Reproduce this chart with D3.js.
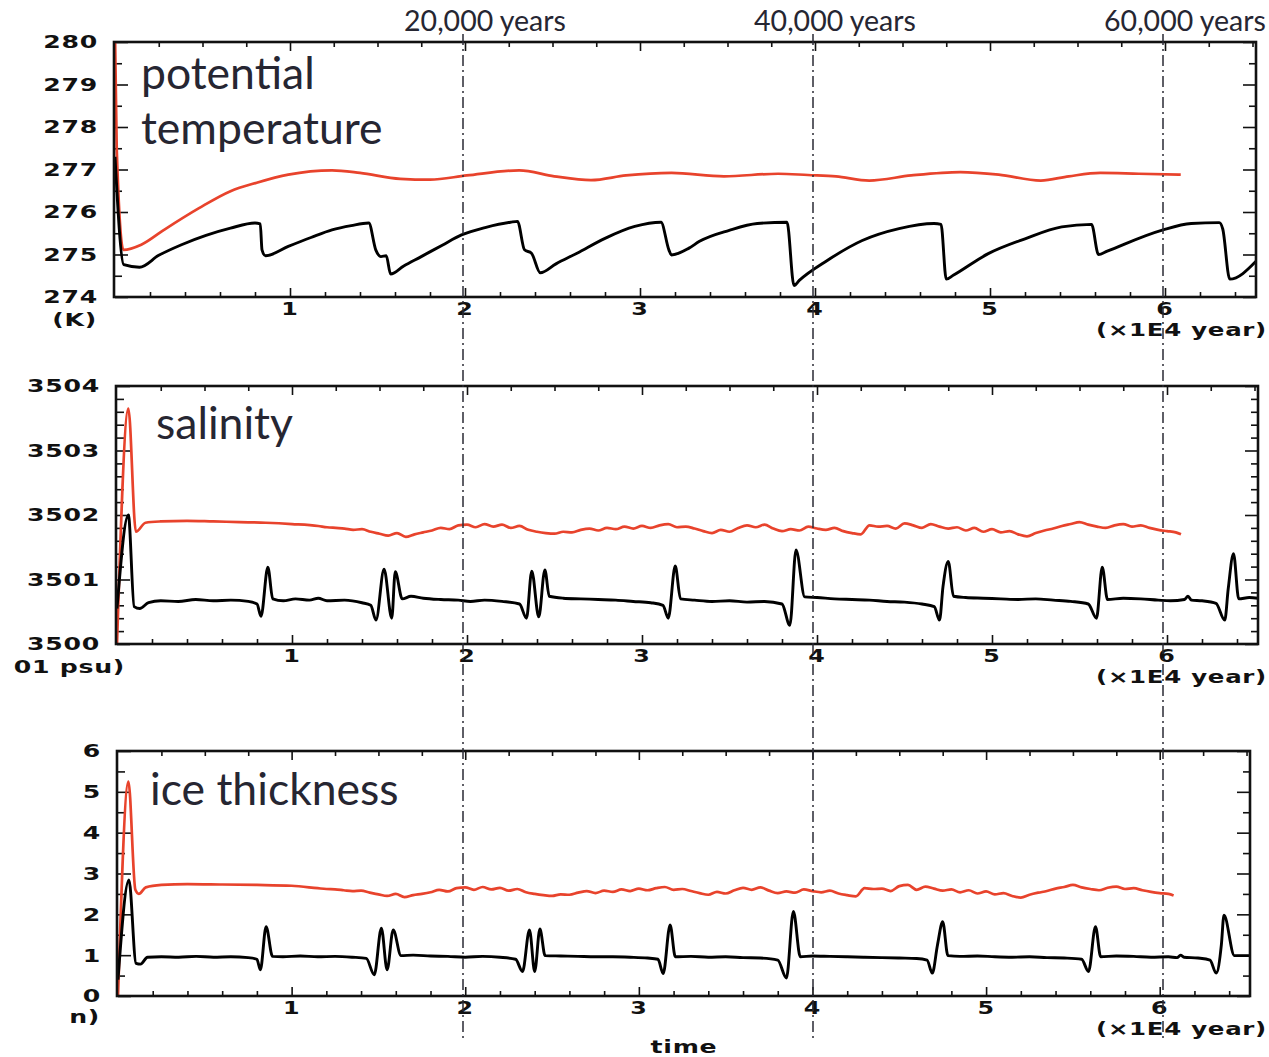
<!DOCTYPE html>
<html>
<head>
<meta charset="utf-8">
<script src="https://cdn.jsdelivr.net/npm/d3@7"></script>
<style>
body { margin: 0; background: #fff; }
svg { display: block; }
</style>
</head>
<body>
<svg id="chart"></svg>
<script>
// time in units of 1E4 years
var timeTicks = [1, 2, 3, 4, 5, 6];
var yearMarks = [2, 4, 6];
var yearLabels = ["20,000 years", "40,000 years", "60,000 years"];

var tempTicks = [274, 275, 276, 277, 278, 279, 280];
var salTicks = [3500, 3501, 3502, 3503, 3504];
var iceTicks = [0, 1, 2, 3, 4, 5, 6];

// potential temperature (K)
var tempBlack = [[0,277.3],[0.05,274.76],[0.14,274.70],[0.25,274.98],[0.38,275.23],[0.52,275.45],[0.66,275.62],[0.8,275.74],[0.83,275.72],
  [0.84,275.11],[0.86,274.97],[0.99,275.19],[1.12,275.40],[1.24,275.58],[1.35,275.68],[1.45,275.74],[1.49,275.11],[1.52,274.95],
  [1.55,274.97],[1.575,274.54],[1.65,274.73],[1.75,274.95],[1.87,275.22],[1.98,275.46],[2.12,275.64],[2.26,275.76],[2.30,275.78],
  [2.34,275.11],[2.38,275.03],[2.43,274.57],[2.52,274.78],[2.64,275.03],[2.8,275.38],[2.97,275.66],[3.12,275.76],[3.165,275.11],
  [3.18,274.99],[3.28,275.15],[3.34,275.31],[3.51,275.57],[3.67,275.73],[3.84,275.76],[3.88,274.27],[3.91,274.39],[4.07,274.86],
  [4.27,275.33],[4.48,275.61],[4.68,275.73],[4.72,275.71],[4.75,274.42],[4.79,274.51],[4.99,275.02],[5.2,275.37],[5.41,275.65],
  [5.58,275.71],[5.62,275.0],[5.67,275.08],[5.98,275.57],[6.15,275.73],[6.31,275.75],[6.33,275.6],[6.37,274.42],[6.52,274.84]];
var tempRed = [[0,280.2],[0.01,277.47],[0.048,275.11],[0.15,275.23],[0.28,275.58],[0.48,276.09],[0.66,276.49],[0.81,276.69],
  [0.99,276.88],[1.24,276.98],[1.4,276.92],[1.63,276.78],[1.8,276.76],[2.01,276.86],[2.31,276.98],[2.51,276.84],[2.72,276.75],
  [2.92,276.86],[3.18,276.92],[3.48,276.84],[3.79,276.9],[3.96,276.87],[4.12,276.84],[4.31,276.74],[4.55,276.86],[4.83,276.94],
  [5.05,276.88],[5.29,276.74],[5.45,276.84],[5.63,276.92],[5.85,276.9],[6.09,276.88]];

// salinity (0.001 psu)
var salBlack = [[0,3500.55],[0.065,3502.0],[0.098,3500.58],[0.13,3500.55],[0.18,3500.64],[0.25,3500.67],[0.35,3500.66],[0.45,3500.69],
  [0.55,3500.67],[0.65,3500.68],[0.75,3500.66],[0.80,3500.62],[0.823,3500.43],[0.862,3501.19],[0.89,3500.70],[0.95,3500.67],
  [1.02,3500.70],[1.1,3500.68],[1.15,3500.71],[1.2,3500.67],[1.3,3500.68],[1.4,3500.64],[1.45,3500.6],[1.48,3500.37],[1.526,3501.16],
  [1.57,3500.40],[1.59,3501.12],[1.63,3500.7],[1.68,3500.74],[1.75,3500.71],[1.85,3500.69],[1.95,3500.68],[2.02,3500.66],[2.1,3500.68],
  [2.2,3500.66],[2.3,3500.62],[2.34,3500.40],[2.37,3501.13],[2.41,3500.42],[2.445,3501.15],[2.47,3500.74],[2.55,3500.71],[2.65,3500.70],
  [2.75,3500.69],[2.85,3500.68],[2.95,3500.66],[3.05,3500.64],[3.12,3500.6],[3.15,3500.40],[3.19,3501.21],[3.22,3500.70],[3.3,3500.68],
  [3.4,3500.66],[3.5,3500.67],[3.6,3500.65],[3.7,3500.66],[3.8,3500.62],[3.845,3500.29],[3.88,3501.46],[3.93,3500.73],[4.0,3500.72],
  [4.1,3500.70],[4.2,3500.69],[4.3,3500.68],[4.4,3500.66],[4.5,3500.65],[4.6,3500.62],[4.67,3500.58],[4.70,3500.37],[4.72,3500.89],
  [4.75,3501.28],[4.78,3500.74],[4.85,3500.72],[4.95,3500.71],[5.05,3500.70],[5.15,3500.69],[5.25,3500.70],[5.35,3500.68],[5.45,3500.66],
  [5.55,3500.62],[5.597,3500.40],[5.63,3501.19],[5.66,3500.69],[5.75,3500.71],[5.85,3500.70],[5.95,3500.68],[6.02,3500.67],[6.1,3500.69],
  [6.12,3500.74],[6.14,3500.68],[6.2,3500.67],[6.28,3500.63],[6.33,3500.37],[6.35,3500.86],[6.38,3501.4],[6.41,3500.7],[6.47,3500.72],
  [6.52,3500.71]];
var salRed = [[0,3500.0],[0.065,3503.65],[0.108,3501.74],[0.163,3501.88],[0.25,3501.9],[0.4,3501.91],[0.55,3501.9],[0.7,3501.89],
  [0.85,3501.88],[1.0,3501.86],[1.15,3501.83],
  [1.20,3501.81],[1.25,3501.80],[1.30,3501.79],[1.35,3501.77],[1.40,3501.78],[1.45,3501.74],[1.50,3501.71],[1.55,3501.68],[1.60,3501.72],
  [1.65,3501.66],[1.70,3501.70],[1.75,3501.73],[1.80,3501.76],[1.85,3501.80],[1.90,3501.78],[1.95,3501.84],[2.00,3501.85],[2.05,3501.81],
  [2.10,3501.86],[2.15,3501.82],[2.20,3501.85],[2.25,3501.80],[2.30,3501.83],[2.35,3501.77],[2.40,3501.74],[2.45,3501.72],[2.50,3501.71],
  [2.55,3501.74],[2.60,3501.73],[2.65,3501.77],[2.70,3501.79],[2.75,3501.76],[2.80,3501.80],[2.85,3501.78],[2.90,3501.82],[2.95,3501.79],
  [3.00,3501.83],[3.05,3501.80],[3.10,3501.84],[3.15,3501.86],[3.20,3501.81],[3.25,3501.82],[3.30,3501.79],[3.35,3501.75],[3.40,3501.72],
  [3.45,3501.77],[3.50,3501.74],[3.55,3501.80],[3.60,3501.84],[3.65,3501.81],[3.70,3501.85],[3.75,3501.79],[3.80,3501.75],[3.85,3501.78],
  [3.90,3501.76],[3.95,3501.82],[4.00,3501.79],[4.05,3501.77],[4.10,3501.80],[4.15,3501.75],[4.20,3501.72],[4.25,3501.70],[4.30,3501.84],
  [4.35,3501.82],[4.40,3501.83],[4.45,3501.79],[4.50,3501.87],[4.55,3501.84],[4.60,3501.80],[4.65,3501.86],[4.70,3501.82],[4.75,3501.79],
  [4.80,3501.81],[4.85,3501.76],[4.90,3501.80],[4.95,3501.74],[5.00,3501.78],[5.05,3501.73],[5.10,3501.75],[5.15,3501.70],[5.20,3501.67],
  [5.25,3501.72],[5.30,3501.76],[5.35,3501.79],[5.40,3501.83],[5.45,3501.86],[5.50,3501.89],[5.55,3501.85],[5.60,3501.82],[5.65,3501.80],
  [5.70,3501.84],[5.75,3501.86],[5.80,3501.82],[5.85,3501.84],[5.90,3501.80],[5.95,3501.77],[6.00,3501.75],[6.05,3501.73],[6.08,3501.70]];

// ice thickness (m)
var iceBlack = [[0,0.4],[0.063,2.84],[0.104,0.80],[0.13,0.78],[0.17,0.95],[0.25,0.96],[0.35,0.95],[0.45,0.97],[0.55,0.95],[0.65,0.96],
  [0.75,0.94],[0.80,0.9],[0.82,0.64],[0.853,1.70],[0.89,0.97],[0.95,0.96],[1.05,0.98],[1.15,0.96],[1.25,0.97],[1.35,0.95],[1.43,0.92],
  [1.476,0.52],[1.517,1.66],[1.55,0.64],[1.585,1.62],[1.63,0.99],[1.7,1.0],[1.8,0.98],[1.9,0.97],[2.0,0.95],[2.1,0.97],[2.2,0.95],
  [2.29,0.9],[2.33,0.60],[2.37,1.62],[2.40,0.60],[2.43,1.64],[2.46,0.99],[2.55,0.98],[2.65,0.97],[2.75,0.96],[2.85,0.96],[2.95,0.95],
  [3.05,0.93],[3.11,0.9],[3.14,0.55],[3.18,1.74],[3.21,0.96],[3.3,0.97],[3.4,0.95],[3.5,0.96],[3.6,0.94],[3.7,0.93],[3.8,0.88],
  [3.85,0.44],[3.89,2.07],[3.93,0.96],[4.0,0.98],[4.1,0.97],[4.2,0.96],[4.3,0.95],[4.4,0.94],[4.5,0.93],[4.6,0.92],[4.66,0.88],
  [4.69,0.56],[4.72,1.25],[4.75,1.82],[4.78,0.99],[4.85,0.97],[4.95,0.98],[5.05,0.96],[5.15,0.95],[5.25,0.96],[5.35,0.94],[5.45,0.93],
  [5.55,0.9],[5.59,0.60],[5.63,1.70],[5.66,0.96],[5.75,0.98],[5.85,0.97],[5.95,0.95],[6.05,0.96],[6.1,0.94],[6.12,1.0],[6.14,0.95],
  [6.22,0.93],[6.29,0.88],[6.325,0.56],[6.355,1.25],[6.37,1.98],[6.43,0.99],[6.53,0.99]];
var iceRed = [[0,0],[0.06,5.25],[0.1,2.6],[0.12,2.5],[0.16,2.66],[0.25,2.72],[0.4,2.74],[0.6,2.73],[0.8,2.72],[1.0,2.70],[1.15,2.64],
  [1.20,2.62],[1.25,2.61],[1.30,2.59],[1.35,2.57],[1.40,2.58],[1.45,2.53],[1.50,2.49],[1.55,2.45],[1.60,2.50],[1.65,2.42],[1.70,2.47],
  [1.75,2.50],[1.80,2.54],[1.85,2.60],[1.90,2.56],[1.95,2.64],[2.00,2.66],[2.05,2.60],[2.10,2.67],[2.15,2.61],[2.20,2.65],[2.25,2.58],
  [2.30,2.62],[2.35,2.54],[2.40,2.50],[2.45,2.47],[2.50,2.45],[2.55,2.49],[2.60,2.48],[2.65,2.53],[2.70,2.57],[2.75,2.52],[2.80,2.58],
  [2.85,2.55],[2.90,2.61],[2.95,2.57],[3.00,2.63],[3.05,2.59],[3.10,2.64],[3.15,2.67],[3.20,2.60],[3.25,2.62],[3.30,2.57],[3.35,2.52],
  [3.40,2.48],[3.45,2.55],[3.50,2.51],[3.55,2.59],[3.60,2.65],[3.65,2.60],[3.70,2.66],[3.75,2.58],[3.80,2.52],[3.85,2.56],[3.90,2.53],
  [3.95,2.61],[4.00,2.57],[4.05,2.54],[4.10,2.58],[4.15,2.51],[4.20,2.47],[4.25,2.44],[4.30,2.64],[4.35,2.62],[4.40,2.63],[4.45,2.57],
  [4.50,2.69],[4.55,2.72],[4.60,2.60],[4.65,2.68],[4.70,2.63],[4.75,2.58],[4.80,2.61],[4.85,2.54],[4.90,2.59],[4.95,2.51],[5.00,2.56],
  [5.05,2.49],[5.10,2.52],[5.15,2.45],[5.20,2.41],[5.25,2.48],[5.30,2.53],[5.35,2.57],[5.40,2.63],[5.45,2.67],[5.50,2.72],[5.55,2.66],
  [5.60,2.62],[5.65,2.59],[5.70,2.65],[5.75,2.68],[5.80,2.62],[5.85,2.64],[5.90,2.59],[5.95,2.55],[6.00,2.52],[6.05,2.50],[6.08,2.46]];

var width = 1269, height = 1057;
var RED = "#e8432c";
var INK = "#262632";

var svg = d3.select("#chart").attr("width", width).attr("height", height);

var panels = [
  {left: 115, right: 1256, top: 42, bottom: 297, ticks: tempTicks, minor: 0.5,
   black: tempBlack, red: tempRed, unit: "(K)", unitX: 97, unitY: 320,
   title: ["potential", "temperature"], titleX: 141, titleY: 89},
  {left: 117, right: 1258, top: 386, bottom: 644, ticks: salTicks, minor: 0.2,
   black: salBlack, red: salRed, unit: "01 psu)", unitX: 125, unitY: 667,
   title: ["salinity"], titleX: 156, titleY: 439},
  {left: 118, right: 1250, top: 751, bottom: 996, ticks: iceTicks, minor: 0.5,
   black: iceBlack, red: iceRed, unit: "n)", unitX: 100, unitY: 1017,
   title: ["ice thickness"], titleX: 150, titleY: 805}
];

// wide bold labels in the style of the plotting package
function gradsText(g, txt, x, y, anchor, size) {
  g.append("text")
    .attr("transform", "translate(" + x + "," + y + ") scale(1.4,1)")
    .attr("text-anchor", anchor)
    .attr("dy", "0.36em")
    .style("font-family", "DejaVu Sans")
    .style("font-weight", "bold")
    .style("font-size", (size || 18) + "px")
    .style("letter-spacing", "0.5px")
    .attr("fill", "#111")
    .text(txt);
}

var x1;
panels.forEach(function(p, i) {
  var x = d3.scaleLinear().domain([0, 6.52]).range([p.left, p.right]);
  var lo = p.ticks[0], hi = p.ticks[p.ticks.length - 1];
  var y = d3.scaleLinear().domain([lo, hi]).range([p.bottom, p.top]);
  if (i == 0) x1 = x;
  var g = svg.append("g");

  var clipId = "clip" + i;
  svg.append("clipPath").attr("id", clipId)
    .append("rect").attr("x", p.left).attr("y", p.top)
    .attr("width", p.right - p.left).attr("height", p.bottom - p.top);

  var yMinor = d3.range(lo, hi + 1e-9, p.minor).filter(function(v) { return p.ticks.indexOf(Math.round(v * 100) / 100) < 0; });
  var xMinorB = d3.range(0, 6.52, 0.2).filter(function(v) { return Math.abs(v - Math.round(v)) > 0.01; });
  var xMinorT = d3.range(0, 6.52, 0.25).filter(function(v) { return Math.abs(v - Math.round(v)) > 0.01; });

  function tickAxis(axis, tx, ty) {
    var a = g.append("g").attr("transform", "translate(" + tx + "," + ty + ")").call(axis);
    a.select(".domain").remove();
    a.selectAll("text").remove();
    a.selectAll("line").attr("stroke", "#111").attr("stroke-width", 1.6);
  }
  tickAxis(d3.axisRight(y).tickValues(p.ticks).tickSize(13), p.left, 0);
  tickAxis(d3.axisRight(y).tickValues(yMinor).tickSize(7), p.left, 0);
  tickAxis(d3.axisLeft(y).tickValues(p.ticks).tickSize(13), p.right, 0);
  tickAxis(d3.axisLeft(y).tickValues(yMinor).tickSize(7), p.right, 0);
  tickAxis(d3.axisTop(x).tickValues(timeTicks).tickSize(9), 0, p.bottom);
  tickAxis(d3.axisTop(x).tickValues(xMinorB).tickSize(5), 0, p.bottom);
  tickAxis(d3.axisBottom(x).tickValues(timeTicks).tickSize(9), 0, p.top);
  tickAxis(d3.axisBottom(x).tickValues(xMinorT).tickSize(5), 0, p.top);

  var line = d3.line().curve(d3.curveMonotoneX)
    .x(function(d) { return x(d[0]); }).y(function(d) { return y(d[1]); });
  var lines = g.append("g").attr("clip-path", "url(#" + clipId + ")");
  lines.append("path").datum(p.red).attr("d", line)
    .attr("fill", "none").attr("stroke", RED).attr("stroke-width", 2.7).attr("stroke-linejoin", "round");
  lines.append("path").datum(p.black).attr("d", line)
    .attr("fill", "none").attr("stroke", "#000").attr("stroke-width", 2.9).attr("stroke-linejoin", "round");

  g.append("rect").attr("x", p.left - 1).attr("y", p.top)
    .attr("width", p.right - p.left + 1).attr("height", p.bottom - p.top)
    .attr("fill", "none").attr("stroke", "#111").attr("stroke-width", 2.6);

  p.ticks.forEach(function(v) { gradsText(g, v, p.left - 17, y(v), "end"); });
  timeTicks.forEach(function(v) { gradsText(g, v, x(v), p.bottom + 12, "middle", 17); });
  gradsText(g, p.unit, p.unitX, p.unitY, "end");
  gradsText(g, "(\u00d71E4 year)", 1267, p.bottom + 33, "end", 17.5);

  p.title.forEach(function(t, k) {
    g.append("text").attr("x", p.titleX).attr("y", p.titleY + k * 55)
      .style("font-family", "Lato").style("font-size", "44.5px")
      .attr("fill", INK).text(t);
  });
});

gradsText(svg, "time", 684, 1047, "middle");

// dash-dot marks at 20,000 / 40,000 / 60,000 years
yearMarks.forEach(function(m, k) {
  svg.append("line").attr("x1", x1(m) - 2).attr("x2", x1(m) - 2).attr("y1", 34).attr("y2", 1040)
    .attr("stroke", "#2a2a35").attr("stroke-width", 1.5).attr("stroke-dasharray", "11,4,2,4");
  svg.append("text").attr("x", x1(m) + 20).attr("y", 31).attr("text-anchor", "middle")
    .style("font-family", "Lato").style("font-size", "28.5px").attr("fill", INK).text(yearLabels[k]);
});
</script>
</body>
</html>
